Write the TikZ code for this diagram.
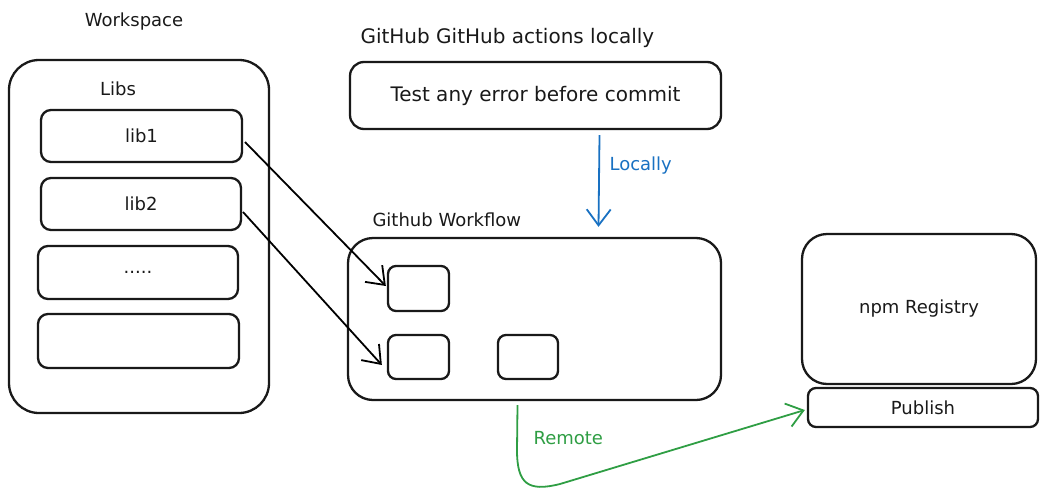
\documentclass[tikz,border=0pt]{standalone}
\usepackage{fontspec}
\setmainfont{DejaVu Sans}
\usetikzlibrary{arrows.meta}
\definecolor{exblue}{HTML}{1971C2}
\definecolor{exgreen}{HTML}{2F9E44}
\begin{document}
\begin{tikzpicture}[x=1pt,y=-1pt,
  box/.style={draw=black!90,line width=2.3pt,rounded corners=#1},
  box/.default=10pt,
  lbl/.style={font=\fontsize{18}{21}\selectfont,text=black!90},
  big/.style={font=\fontsize{20}{23}\selectfont,text=black!90},
  conn/.style={line width=1.8pt,-{Straight Barb[length=16pt,width=24pt,line width=1.8pt]}}]
\useasboundingbox (0,0) rectangle (1048,498);
% Workspace
\node[lbl] (wst) at (134,22) {Workspace};
\draw[box=30pt] (9,60) rectangle (269,413);
\node[lbl] (libs) at (118,89) {Libs};
\node[box, minimum width=201pt, minimum height=52pt, lbl] (lib1) at (141.5,136) {lib1};
\node[box, minimum width=200pt, minimum height=52pt, lbl] (lib2) at (141,204) {lib2};
\node[box, minimum width=200pt, minimum height=53pt, lbl] (dots) at (138,272.5) {.....};
\node[box, minimum width=201pt, minimum height=54pt] (empty) at (138.5,341) {};
% GitHub actions locally
\node[big,anchor=west] (ghl) at (357,38) {GitHub GitHub actions locally};
\node[box=14pt, minimum width=371pt, minimum height=67pt, big] (test) at (535.5,95.5) {Test any error before commit};
% Workflow
\node[lbl,anchor=west] (gwf) at (369,220) {Github Workflow};
\node[box=25pt, minimum width=373pt, minimum height=162pt] (wf) at (534.5,319) {};
\node[box=8pt, minimum width=61pt, minimum height=45pt] (a) at (418.5,288.5) {};
\node[box=8pt, minimum width=61pt, minimum height=44pt] (b) at (418.5,357) {};
\node[box=8pt, minimum width=60pt, minimum height=44pt] (c) at (528,357) {};
% npm
\node[box=25pt, minimum width=234pt, minimum height=150pt, lbl] (npm) at (919,309) {npm Registry};
\node[box=8pt, minimum width=230pt, minimum height=39pt, lbl] (pub) at (923,407.5) {Publish};
% connectors
\coordinate (l1s) at (245,142);
\coordinate (l2s) at (243,212);
\draw[conn] (l1s) -- ([xshift=-1pt,yshift=2.5pt]a.west);
\draw[conn] (l2s) -- ([xshift=-5pt,yshift=-8pt]b.west);
\draw[conn,exblue] ([xshift=64pt,yshift=-5pt]test.south) -- ([xshift=64pt,yshift=10pt]wf.north);
\node[lbl,text=exblue,anchor=west] (loc) at (606,166) {Locally};
\draw[conn,exgreen] ([xshift=-17pt,yshift=-4pt]wf.south) -- (517,450) .. controls (517,484) and (528,492) .. (560,484) -- ([xshift=-2pt,yshift=-2.5pt]pub.west);
\node[lbl,text=exgreen,anchor=west] (rem) at (530,438) {Remote};
\end{tikzpicture}
\end{document}
